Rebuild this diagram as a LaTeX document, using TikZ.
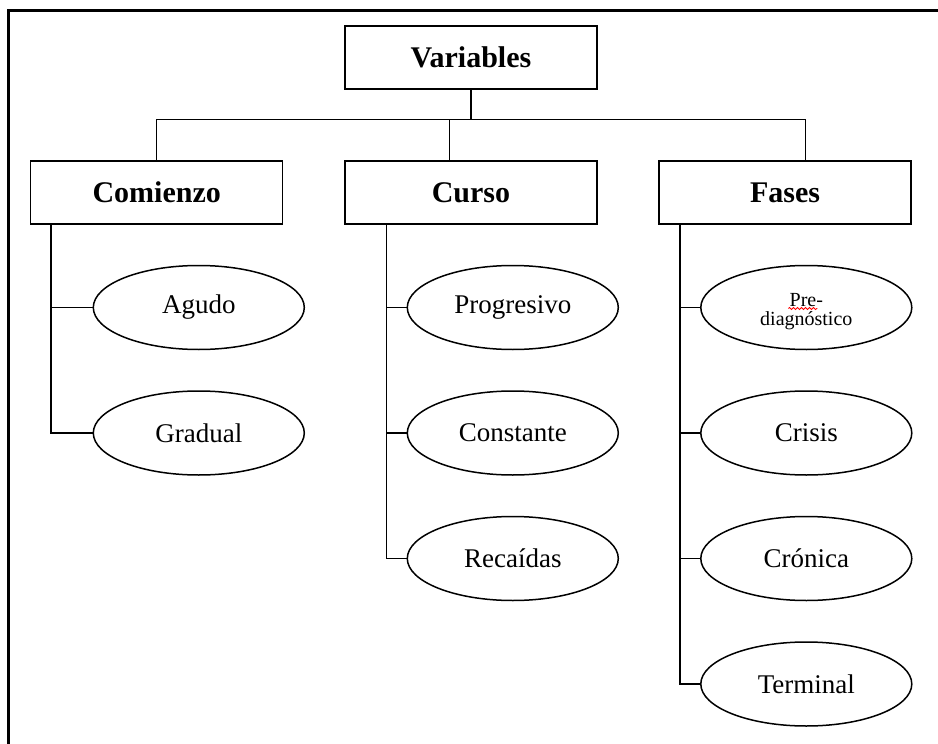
\documentclass[tikz,border=0pt]{standalone}
\usepackage{fontspec}
\setmainfont{Liberation Serif}
\usepackage{tikz}
\usetikzlibrary{positioning,shapes,decorations.pathmorphing}

\tikzset{
    head/.style={draw, rectangle, minimum width=252pt, minimum height=63pt, inner sep=0pt, font=\fontsize{30}{35}\selectfont\bfseries},
    leaf/.style={draw, ellipse, minimum width=211pt, minimum height=84pt, inner sep=0pt, font=\fontsize{27}{32}\selectfont},
}

\begin{document}
\begin{tikzpicture}[x=1pt, y=-1pt, line width=1.5pt, node distance=40pt]
    \useasboundingbox (0,0) rectangle (938,744);
    \draw[line width=3pt] (8,750) -- (8,10) -- (950,10);

    \node[head] (vars) at (471,57.5) {Variables};
    \node[head] (comienzo) at (156.7,192.5) {Comienzo};
    \node[head] (curso) at (471,192.5) {Curso};
    \node[head] (fases) at (785,192.5) {Fases};

    \node[leaf] (agudo) at (198.8,307.5) {Agudo};
    \node[leaf, below=of agudo] (gradual) {Gradual};

    \node[leaf] (progresivo) at (512.8,307.5) {Progresivo};
    \node[leaf, below=of progresivo] (constante) {Constante};
    \node[leaf, below=of constante] (recaidas) {Recaídas};

    \node[leaf, align=center, font=\fontsize{20}{19}\selectfont] (prediag) at (806.3,307.5) {\rule{0pt}{22pt}Pre-\\diagnóstico};
    \node[leaf, below=of prediag] (crisis) {Crisis};
    \node[leaf, below=of crisis] (cronica) {Crónica};
    \node[leaf, below=of cronica] (terminal) {Terminal};

    % spell-check mark under "Pre"
    \draw[red, line width=0.8pt, decorate, decoration={snake, amplitude=1pt, segment length=4pt}]
        ([xshift=-18pt, yshift=-1pt]prediag.center) -- ([xshift=11pt, yshift=-1pt]prediag.center);

    % top level
    \coordinate (bus) at (0,119.3);
    \coordinate (cursoIn) at ([xshift=105pt]curso.north west);
    \coordinate (fasesIn) at ([xshift=147pt]fases.north west);
    \draw (vars.south) -- (vars.south |- bus);
    \draw (comienzo.north) |- (fasesIn |- bus) -- (fasesIn);
    \draw (cursoIn |- bus) -- (cursoIn);

    % trunks
    \coordinate (comTrunk) at ([xshift=21pt]comienzo.south west);
    \coordinate (curTrunk) at ([xshift=42.3pt]curso.south west);
    \coordinate (fasTrunk) at ([xshift=21.7pt]fases.south west);

    \draw (comTrunk) |- (gradual.west);
    \draw (comTrunk |- agudo.west) -- (agudo.west);

    \draw (curTrunk) |- (recaidas.west);
    \draw (curTrunk |- progresivo.west) -- (progresivo.west);
    \draw (curTrunk |- constante.west) -- (constante.west);

    \draw (fasTrunk) |- (terminal.west);
    \draw (fasTrunk |- prediag.west) -- (prediag.west);
    \draw (fasTrunk |- crisis.west) -- (crisis.west);
    \draw (fasTrunk |- cronica.west) -- (cronica.west);
\end{tikzpicture}
\end{document}
